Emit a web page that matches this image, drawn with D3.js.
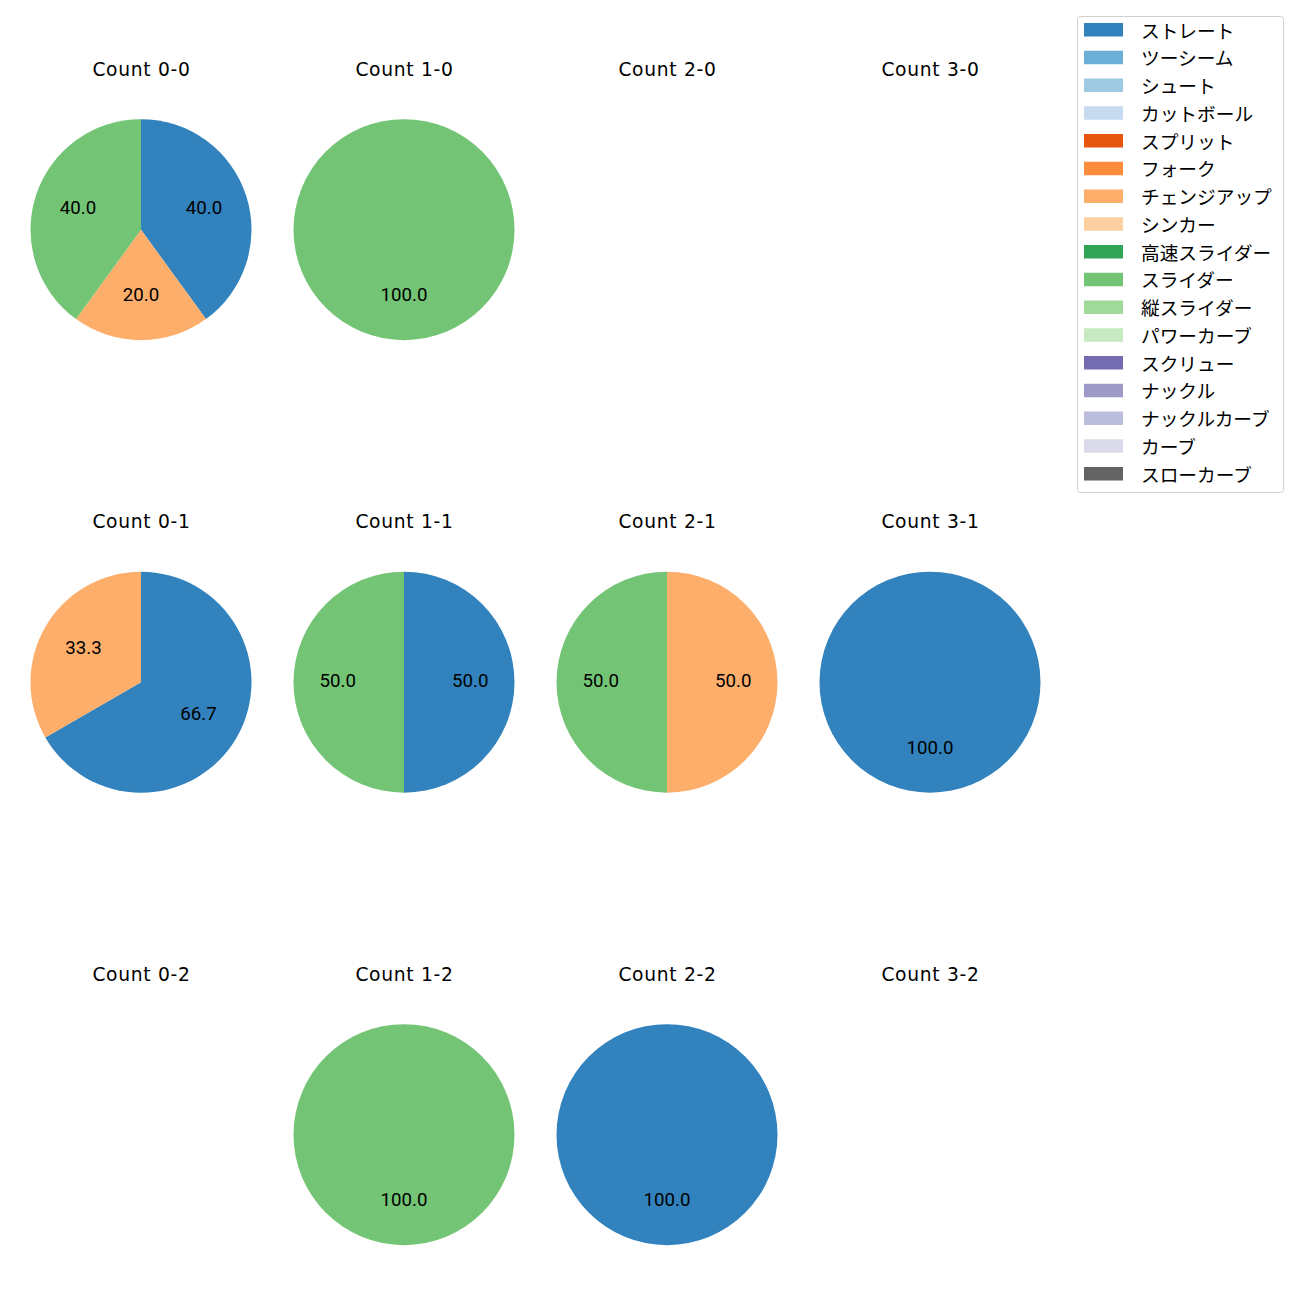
<!DOCTYPE html>
<html>
<head>
<meta charset="utf-8">
<script src="https://cdn.jsdelivr.net/npm/d3@7"></script>
<style>
  html, body { margin: 0; padding: 0; background: #fff; }
  svg { display: block; }
  text { fill: #000; }
  .title { font-family: "DejaVu Sans", sans-serif; font-size: 18.7px; letter-spacing: 0.7px; }
  .lbl { font-family: Roboto, "DejaVu Sans", sans-serif; font-size: 18.7px; }
  .leg { font-family: "Noto Sans CJK JP", sans-serif; font-size: 18.7px; }
</style>
</head>
<body>
<script>
// ---- data ----
const pitchTypes = ["ストレート","ツーシーム","シュート","カットボール","スプリット","フォーク","チェンジアップ","シンカー","高速スライダー","スライダー","縦スライダー","パワーカーブ","スクリュー","ナックル","ナックルカーブ","カーブ","スローカーブ"];
const pitchColors = ["#3182bd","#6baed6","#9ecae1","#c6dbef","#e6550d","#fd8d3c","#fdae6b","#fdd0a2","#31a354","#74c476","#a1d99b","#c7e9c0","#756bb1","#9e9ac8","#bcbddc","#dadaeb","#636363"];
const panelTitles = ["Count 0-0","Count 1-0","Count 2-0","Count 3-0","Count 0-1","Count 1-1","Count 2-1","Count 3-1","Count 0-2","Count 1-2","Count 2-2","Count 3-2"];
//                 St  2S Sh Ct Sp Fk CH Sk HS SL VS PC Sc Kn KC Cv SC
const count00 = [  2, 0, 0, 0, 0, 0, 1, 0, 0, 2, 0, 0, 0, 0, 0, 0, 0];
const count10 = [  0, 0, 0, 0, 0, 0, 0, 0, 0, 1, 0, 0, 0, 0, 0, 0, 0];
const count20 = [  0, 0, 0, 0, 0, 0, 0, 0, 0, 0, 0, 0, 0, 0, 0, 0, 0];
const count30 = [  0, 0, 0, 0, 0, 0, 0, 0, 0, 0, 0, 0, 0, 0, 0, 0, 0];
const count01 = [  2, 0, 0, 0, 0, 0, 1, 0, 0, 0, 0, 0, 0, 0, 0, 0, 0];
const count11 = [  1, 0, 0, 0, 0, 0, 0, 0, 0, 1, 0, 0, 0, 0, 0, 0, 0];
const count21 = [  0, 0, 0, 0, 0, 0, 1, 0, 0, 1, 0, 0, 0, 0, 0, 0, 0];
const count31 = [  1, 0, 0, 0, 0, 0, 0, 0, 0, 0, 0, 0, 0, 0, 0, 0, 0];
const count02 = [  0, 0, 0, 0, 0, 0, 0, 0, 0, 0, 0, 0, 0, 0, 0, 0, 0];
const count12 = [  0, 0, 0, 0, 0, 0, 0, 0, 0, 1, 0, 0, 0, 0, 0, 0, 0];
const count22 = [  1, 0, 0, 0, 0, 0, 0, 0, 0, 0, 0, 0, 0, 0, 0, 0, 0];
const count32 = [  0, 0, 0, 0, 0, 0, 0, 0, 0, 0, 0, 0, 0, 0, 0, 0, 0];
const panelValues = [count00,count10,count20,count30,count01,count11,count21,count31,count02,count12,count22,count32];

// ---- layout ----
const W = 1300, H = 1300;
const colX = [141, 404, 667, 930];
const rowY = [229.7, 682.2, 1134.7];
const R = 110.5;

const svg = d3.select("body").append("svg").attr("width", W).attr("height", H);

const color = d3.scaleOrdinal().domain(pitchTypes).range(pitchColors);
const pie = d3.pie().sort(null).value(d => d.v);
const arc = d3.arc().innerRadius(0).outerRadius(R);
const labelArc = d3.arc().innerRadius(R * 0.6).outerRadius(R * 0.6);

panelTitles.forEach((title, i) => {
  const cx = colX[i % 4], cy = rowY[Math.floor(i / 4)];
  const g = svg.append("g").attr("transform", `translate(${cx},${cy})`);
  g.append("text")
    .attr("class", "title")
    .attr("x", 0.5).attr("y", -160.5)
    .attr("text-anchor", "middle")
    .attr("dominant-baseline", "central")
    .text(title);
  const vals = panelValues[i];
  const data = pitchTypes.map((p, k) => ({ p, v: vals[k] })).filter(d => d.v > 0);
  if (!data.length) return;
  const total = d3.sum(data, d => d.v);
  const arcs = pie(data);
  g.selectAll("path.slice").data(arcs).join("path")
    .attr("class", "slice")
    .attr("d", arc)
    .attr("fill", d => color(d.data.p));
  g.selectAll("text.lbl").data(arcs).join("text")
    .attr("class", "lbl")
    .attr("transform", d => { const c = labelArc.centroid(d); return `translate(${c[0]},${c[1] - 1})`; })
    .attr("text-anchor", "middle")
    .attr("dominant-baseline", "central")
    .text(d => (d.data.v / total * 100).toFixed(1));
});

// ---- legend ----
const lg = svg.append("g").attr("transform", "translate(1077,16)");
lg.append("rect")
  .attr("x", 0.5).attr("y", 0.5).attr("width", 206).attr("height", 476)
  .attr("rx", 3).attr("fill", "#fff").attr("stroke", "#d0d0d0").attr("stroke-width", 1);
const rowH = 27.75;
pitchTypes.forEach((p, k) => {
  const y = 14 + k * rowH;
  lg.append("rect").attr("x", 7).attr("y", y - 7).attr("width", 39).attr("height", 13.5)
    .attr("fill", color(p));
  lg.append("text").attr("class", "leg").attr("x", 64).attr("y", y - 1)
    .attr("dominant-baseline", "central")
    .text(p);
});
</script>
</body>
</html>
